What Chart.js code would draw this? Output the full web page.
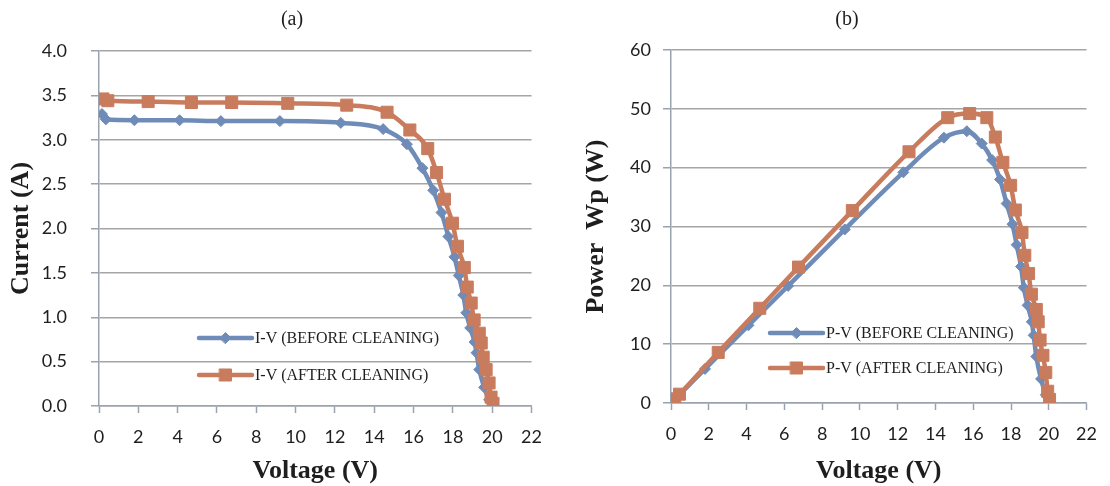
<!DOCTYPE html>
<html>
<head>
<meta charset="utf-8">
<script src="https://cdn.jsdelivr.net/npm/chart.js@4.4.1/dist/chart.umd.min.js"></script>
<style>
  html, body { margin: 0; padding: 0; background: #ffffff; }
  #wrap { position: relative; width: 1110px; height: 486px; overflow: hidden; }
  .panel { position: absolute; top: 0; width: 555px; height: 486px; }
</style>
</head>
<body>
<div id="wrap">
  <div class="panel" style="left:0"><canvas id="ivChart" width="555" height="486"></canvas></div>
  <div class="panel" style="left:555px"><canvas id="pvChart" width="555" height="486"></canvas></div>
</div>
<script>
// Module measurements before cleaning
const voltageBefore = [0.15, 0.35, 1.8, 4.1, 6.2, 9.2, 12.3, 14.45, 15.66, 16.45, 17.0, 17.42, 17.77, 18.08, 18.3, 18.53, 18.68, 18.88, 19.1, 19.2, 19.34, 19.59, 19.84, 20.04];
const currentBefore = [3.29, 3.23, 3.22, 3.22, 3.21, 3.21, 3.19, 3.12, 2.95, 2.68, 2.43, 2.18, 1.91, 1.68, 1.47, 1.25, 1.05, 0.88, 0.72, 0.60, 0.41, 0.21, 0.07, 0.0];
const powerBefore   = [0.5, 1.1, 5.8, 13.2, 19.9, 29.5, 39.2, 45.1, 46.2, 44.1, 41.3, 38.0, 33.9, 30.4, 26.9, 23.2, 19.6, 16.6, 13.8, 11.5, 7.9, 4.1, 1.4, 0.0];

// Module measurements after cleaning
const voltageAfter = [0.2, 0.45, 2.5, 4.7, 6.75, 9.6, 12.6, 14.65, 15.81, 16.72, 17.17, 17.57, 17.98, 18.23, 18.58, 18.73, 18.93, 19.08, 19.34, 19.44, 19.54, 19.69, 19.84, 19.94, 20.04];
const currentAfter = [3.46, 3.44, 3.43, 3.42, 3.42, 3.41, 3.39, 3.31, 3.11, 2.90, 2.63, 2.33, 2.06, 1.80, 1.56, 1.34, 1.16, 0.97, 0.82, 0.71, 0.55, 0.41, 0.26, 0.10, 0.03];
const powerAfter   = [0.7, 1.5, 8.6, 16.1, 23.1, 32.7, 42.7, 48.5, 49.2, 48.5, 45.2, 40.9, 37.0, 32.8, 29.0, 25.1, 22.0, 18.5, 15.9, 13.8, 10.7, 8.1, 5.2, 2.0, 0.6];

// Series and axis labels
const ivLabels = ['I-V (BEFORE CLEANING)', 'I-V (AFTER CLEANING)'];
const pvLabels = ['P-V (BEFORE CLEANING)', 'P-V (AFTER CLEANING)'];
const panelTitles = ['(a)', '(b)'];
const xAxisTitle = 'Voltage (V)';
const ivAxisTitle = 'Current (A)';
const pvAxisTitle = 'Power  Wp (W)';

const BLUE = '#6f8cb8';
const ORANGE = '#c97c5d';
const GRID = '#a5a5a5';
const AXIS = '#99a3b0';
const TEXT = '#1e1e1e';

function toPoints(xs, ys) {
  return xs.map((x, i) => ({ x: x, y: ys[i] }));
}

// Panel caption above each plot
const panelTitle = {
  id: 'panelTitle',
  afterDraw(chart, args, opts) {
    const ctx = chart.ctx;
    ctx.save();
    ctx.fillStyle = TEXT;
    ctx.font = opts.font;
    ctx.textAlign = 'center';
    ctx.textBaseline = 'middle';
    ctx.fillText(opts.text, opts.x, opts.y);
    ctx.restore();
  }
};

// Legend drawn inside the plot area, over the gridlines
const insetLegend = {
  id: 'insetLegend',
  afterDatasetsDraw(chart, args, opts) {
    const ctx = chart.ctx;
    ctx.save();
    chart.data.datasets.forEach((ds, i) => {
      const y = opts.rows[i];
      const x0 = opts.x;
      const x1 = opts.x + opts.lineLength;
      ctx.strokeStyle = ds.borderColor;
      ctx.lineWidth = ds.borderWidth;
      ctx.lineCap = 'round';
      ctx.beginPath();
      ctx.moveTo(x0, y);
      ctx.lineTo(x1, y);
      ctx.stroke();
      ctx.fillStyle = ds.backgroundColor;
      ctx.strokeStyle = ds.borderColor;
      ctx.lineWidth = 1;
      Chart.helpers.drawPoint(ctx, { pointStyle: ds.pointStyle, radius: ds.pointRadius, borderWidth: 1, rotation: 0 }, (x0 + x1) / 2, y);
      ctx.fillStyle = TEXT;
      ctx.font = opts.font;
      ctx.textBaseline = 'middle';
      ctx.textAlign = 'left';
      ctx.fillText(ds.label, x1 + 3, y + 1);
    });
    ctx.restore();
  }
};

function series(label, pts, color, style, radius, order) {
  return {
    label: label,
    data: pts,
    order: order,
    borderColor: color,
    backgroundColor: color,
    borderWidth: 4.5,
    pointStyle: style,
    pointRadius: radius,
    pointBorderWidth: 1,
    pointBackgroundColor: color,
    pointBorderColor: color,
    cubicInterpolationMode: 'monotone',
    fill: false
  };
}

function makeChart(id, cfg) {
  return new Chart(document.getElementById(id), {
    type: 'line',
    data: {
      datasets: [
        series(cfg.labels[0], cfg.before, BLUE, 'rectRot', 5.5, 1),
        series(cfg.labels[1], cfg.after, ORANGE, 'rect', 8.5, 0)
      ]
    },
    plugins: [insetLegend, panelTitle],
    options: {
      responsive: false,
      animation: false,
      events: [],
      layout: { padding: { left: 0, right: cfg.padRight, top: cfg.padTop, bottom: 0 } },
      plugins: {
        legend: { display: false },
        tooltip: { enabled: false },
        title: { display: false },
        panelTitle: { text: cfg.title, x: cfg.titleX, y: 20, font: '20px "Liberation Serif"' },
        insetLegend: { x: cfg.legendX, lineLength: 53, rows: cfg.legendRows, font: '16px "Liberation Serif"' }
      },
      scales: {
        x: {
          type: 'linear',
          min: 0,
          max: 22,
          afterFit: (s) => { s.height = cfg.xHeight; },
          ticks: {
            stepSize: 2,
            padding: 13,
            color: TEXT,
            font: { family: 'Lato', size: 18 }
          },
          grid: {
            drawOnChartArea: false,
            drawTicks: true,
            tickLength: 7,
            tickColor: AXIS,
            tickWidth: 1.5
          },
          border: { color: AXIS, width: 1.5 },
          title: {
            display: true,
            text: xAxisTitle,
            color: TEXT,
            font: { family: 'Liberation Serif', size: 26, weight: 'bold', lineHeight: 1.2 },
            padding: { top: 0, bottom: -1 }
          }
        },
        y: {
          type: 'linear',
          min: 0,
          max: cfg.yMax,
          afterFit: (s) => { s.width = cfg.yWidth; },
          ticks: {
            stepSize: cfg.yStep,
            padding: cfg.yTickPad,
            color: TEXT,
            font: { family: 'Lato', size: 18 },
            callback: cfg.yFormat
          },
          grid: {
            color: GRID,
            lineWidth: 1.5,
            drawTicks: true,
            tickLength: 8,
            tickColor: AXIS,
            tickWidth: 1.5
          },
          border: { color: AXIS, width: 1.5 },
          title: {
            display: true,
            text: cfg.yTitle,
            color: TEXT,
            font: { family: 'Liberation Serif', size: 26, weight: 'bold', lineHeight: 1.2 },
            padding: { top: cfg.yTitlePad, bottom: 0 }
          }
        }
      }
    }
  });
}

makeChart('ivChart', {
  labels: ivLabels,
  title: panelTitles[0],
  titleX: 292,
  padTop: 51,
  before: toPoints(voltageBefore, currentBefore),
  after: toPoints(voltageAfter, currentAfter),
  yMax: 4,
  yStep: 0.5,
  yFormat: (v) => v.toFixed(1),
  yTitle: ivAxisTitle,
  yWidth: 99,
  yTickPad: 24,
  yTitlePad: 6,
  xHeight: 80,
  padRight: 19,
  legendX: 199,
  legendRows: [338, 375]
});

makeChart('pvChart', {
  labels: pvLabels,
  title: panelTitles[1],
  titleX: 292,
  padTop: 50,
  before: toPoints(voltageBefore, powerBefore),
  after: toPoints(voltageAfter, powerAfter),
  yMax: 60,
  yStep: 10,
  yFormat: (v) => String(v),
  yTitle: pvAxisTitle,
  yWidth: 116,
  yTickPad: 12,
  yTitlePad: 26,
  xHeight: 83,
  padRight: 13,
  legendX: 215,
  legendRows: [333, 368]
});
</script>
</body>
</html>
